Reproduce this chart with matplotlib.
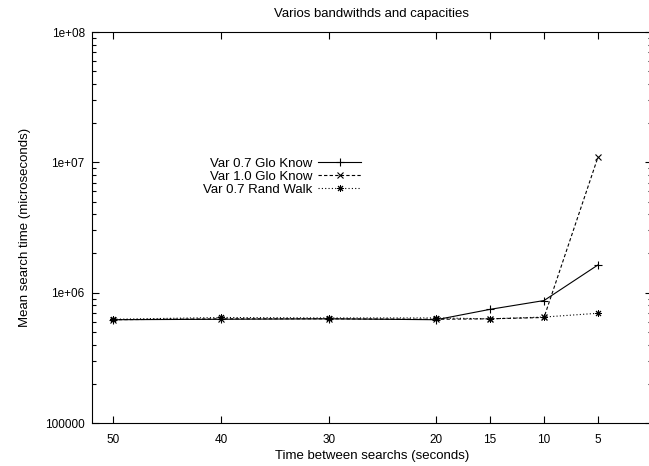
import matplotlib
matplotlib.use("Agg")
import matplotlib.pyplot as plt
from matplotlib.ticker import FixedLocator, FuncFormatter, LogLocator, NullFormatter

plt.rcParams['font.family'] = ['Liberation Sans', 'DejaVu Sans']

# Data
interval_s = [50, 40, 30, 20, 15, 10, 5]
glo07 = [6.2e5, 6.25e5, 6.3e5, 6.2e5, 7.45e5, 8.7e5, 1.63e6]
glo10 = [6.2e5, 6.3e5, 6.3e5, 6.25e5, 6.3e5, 6.45e5, 1.09e7]
rw07 = [6.25e5, 6.45e5, 6.4e5, 6.4e5, 6.3e5, 6.5e5, 6.95e5]
labels = ["Var 0.7 Glo Know", "Var 1.0 Glo Know", "Var 0.7 Rand Walk"]

fig = plt.figure(figsize=(6.49, 4.66), dpi=100)
ax = fig.add_axes([91.7/649, 43/466, 560/649, 391/466])

lw = 0.8
ax.plot(interval_s, glo07, color='black', lw=lw, linestyle='-', marker='+',
        markersize=6, markeredgewidth=0.8, label=labels[0])
ax.plot(interval_s, glo10, color='black', lw=lw, linestyle=(0, (3, 2)), marker='x',
        markersize=4.5, markeredgewidth=0.8, label=labels[1])
ax.plot(interval_s, rw07, color='black', lw=lw, linestyle=(0, (1, 2)), marker=(8, 2, 0),
        markersize=5, markeredgewidth=0.7, label=labels[2])

ax.set_yscale('log')
ax.set_xlim(52, 0)
ax.set_ylim(1e5, 1e8)

ax.xaxis.set_major_locator(FixedLocator(interval_s))
ax.xaxis.set_major_formatter(FuncFormatter(lambda v, p: f"{int(v)}"))
ax.yaxis.set_major_locator(FixedLocator([1e5, 1e6, 1e7, 1e8]))
ylab = {1e5: "100000", 1e6: "1e+06", 1e7: "1e+07", 1e8: "1e+08"}
ax.yaxis.set_major_formatter(FuncFormatter(lambda v, p: ylab.get(v, "")))
ax.yaxis.set_minor_locator(LogLocator(base=10, subs=range(2, 10)))
ax.yaxis.set_minor_formatter(NullFormatter())
ax.xaxis.set_minor_locator(FixedLocator([]))

ax.tick_params(axis='both', which='both', direction='in', top=True, right=True,
               colors='black', labelsize=8.5, width=0.8)
ax.tick_params(axis='both', which='major', length=5)
ax.tick_params(axis='y', which='minor', length=3)
ax.tick_params(axis='x', which='major', pad=8)
ax.tick_params(axis='y', which='major', pad=5)

for s in ax.spines.values():
    s.set_linewidth(0.8)

ax.set_title("Varios bandwithds and capacities", fontsize=9.5, pad=11)
ax.set_xlabel("Time between searchs (seconds)", fontsize=9.5, labelpad=3)
ax.set_ylabel("Mean search time (microseconds)", fontsize=9.5, labelpad=10)

leg = ax.legend(loc='upper left', bbox_to_anchor=(105/560, (423-151)/391), frameon=False,
                markerfirst=False, fontsize=9.5, handlelength=3.3, handletextpad=0.4,
                labelspacing=0.05, borderpad=0)
for col in leg._legend_handle_box.get_children():
    col.align = "right"

fig.savefig("out.png", dpi=100)
